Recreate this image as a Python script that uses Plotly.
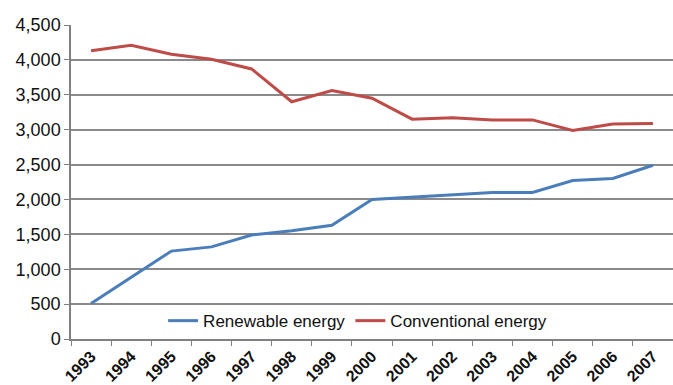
import plotly.graph_objects as go

years = [str(y) for y in range(1993, 2008)]
renewable = [510, 890, 1260, 1320, 1490, 1550, 1630, 2000, 2030, 2060, 2100, 2100, 2270, 2300, 2490]
conventional = [4130, 4210, 4080, 4010, 3870, 3400, 3560, 3450, 3150, 3170, 3140, 3140, 2990, 3080, 3090]
y_ticks = [0, 500, 1000, 1500, 2000, 2500, 3000, 3500, 4000, 4500]

font_family = "Liberation Sans, Arial, sans-serif"

fig = go.Figure()
fig.add_trace(go.Scatter(x=years, y=renewable, mode="lines", name="Renewable energy",
                         line=dict(color="#4a7ebb", width=3)))
fig.add_trace(go.Scatter(x=years, y=conventional, mode="lines", name="Conventional energy",
                         line=dict(color="#be4b48", width=3)))

fig.update_layout(
    width=673, height=385,
    margin=dict(l=71, r=0, t=25, b=44),
    paper_bgcolor="white", plot_bgcolor="white",
    font=dict(family=font_family, color="#111111", size=17),
    showlegend=True,
    legend=dict(orientation="h", x=0.153, xanchor="left", y=0.057, yanchor="middle",
                bgcolor="rgba(0,0,0,0)", font=dict(size=17),
                tracegroupgap=0, itemwidth=30),
)
fig.update_xaxes(
    type="category", range=[-0.5, 14.5], tickangle=-45,
    tickson="boundaries", ticks="outside", ticklen=5, tickcolor="#808080",
    showline=True, linecolor="#808080", linewidth=1.5,
    showgrid=False, tickfont=dict(size=16, weight="bold"),
)
fig.update_yaxes(
    range=[0, 4500], tickvals=y_ticks, tickformat=",",
    ticks="outside", ticklen=5, tickcolor="#808080",
    showline=True, linecolor="#808080", linewidth=1.5,
    showgrid=True, gridcolor="#8a8a8a", gridwidth=1.5,
    zeroline=False, tickfont=dict(size=18),
)

fig.write_html("out.html")
